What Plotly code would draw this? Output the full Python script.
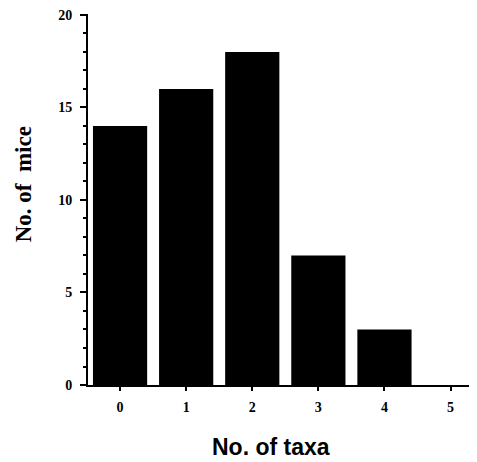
import plotly.graph_objects as go

taxa = [0, 1, 2, 3, 4, 5]
mice = [14, 16, 18, 7, 3, 0]
y_ticks = [0, 5, 10, 15, 20]

fig = go.Figure()
fig.add_trace(go.Bar(x=taxa, y=mice, width=0.82, marker=dict(color="black", line=dict(width=0))))

fig.update_layout(
    width=469, height=454,
    margin=dict(l=80, r=0, t=6, b=77),
    paper_bgcolor="white", plot_bgcolor="white",
    showlegend=False,
    xaxis=dict(
        range=[-0.485, 5.4], tickmode="array", tickvals=taxa, ticktext=[str(t) for t in taxa],
        ticks="outside", ticklen=4, tickwidth=2, tickcolor="black",
        showline=True, linecolor="black", linewidth=2, showgrid=False, zeroline=False,
        tickfont=dict(family="Liberation Serif", size=14, color="black", weight="bold"),
        ticklabelstandoff=4,
    ),
    yaxis=dict(
        range=[0, 20.05], tickmode="array", tickvals=y_ticks,
        ticks="outside", ticklen=6, tickwidth=2, tickcolor="black",
        minor=dict(dtick=1, ticks="outside", ticklen=3, tickwidth=1.5, tickcolor="black"),
        showline=True, linecolor="black", linewidth=2, showgrid=False, zeroline=False,
        tickfont=dict(family="Liberation Serif", size=14, color="black", weight="bold"),
        ticklabelstandoff=5, ticklabeloverflow="allow",
    ),
    annotations=[
        dict(text="No. of taxa", xref="paper", yref="paper", x=0.470, y=-0.168,
             xanchor="center", yanchor="middle", showarrow=False,
             font=dict(family="Liberation Sans", size=23, color="black", weight="bold")),
        dict(text="No. of  mice", xref="paper", yref="paper", x=-0.167, y=0.541,
             xanchor="center", yanchor="middle", showarrow=False, textangle=-90,
             font=dict(family="Liberation Serif", size=23, color="black", weight="bold")),
    ],
)

fig.write_html("out.html")
